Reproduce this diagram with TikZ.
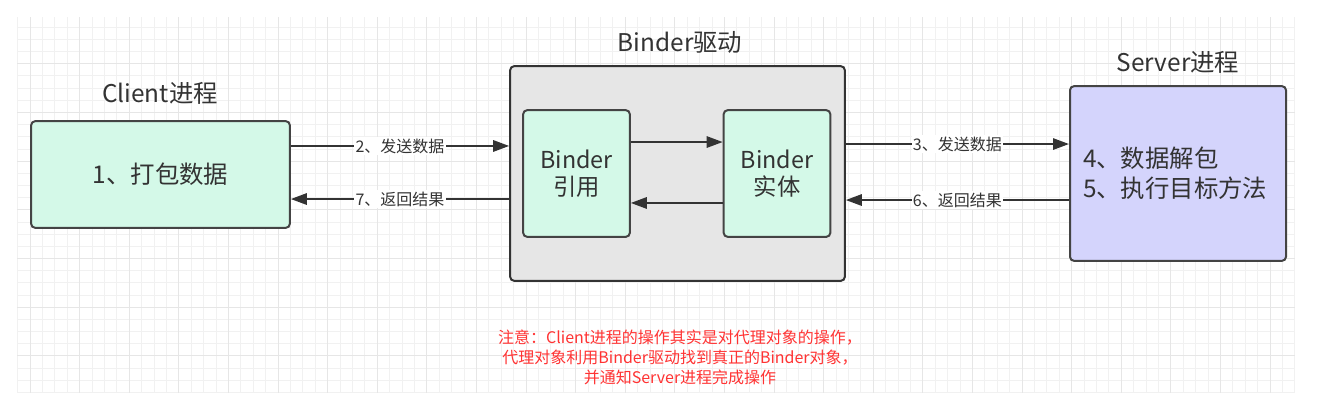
\documentclass[tikz,border=0pt]{standalone}
\usepackage{fontspec}
\setmainfont{Noto Sans CJK SC}
\usetikzlibrary{arrows.meta, positioning}

\definecolor{inkgray}{HTML}{333333}
\definecolor{edgegray}{HTML}{444444}
\definecolor{mint}{HTML}{D4F9E8}
\definecolor{lavender}{HTML}{D4D4FC}
\definecolor{driverfill}{HTML}{E6E6E6}
\definecolor{gridlight}{HTML}{F1F1F1}
\definecolor{gridheavy}{HTML}{E6E6E6}
\definecolor{notered}{HTML}{FF3333}

\tikzset{
  procbox/.style={draw=edgegray, line width=1.5pt, rounded corners=3pt,
    text=inkgray, font=\fontsize{18.3}{22.5}\selectfont},
  innerbox/.style={procbox, fill=mint, minimum width=80pt, minimum height=95pt,
    align=center, font=\fontsize{17.5}{20}\selectfont},
  title/.style={text=inkgray, font=\fontsize{18.3}{20}\selectfont},
  flow/.style={draw=inkgray, line width=1.5pt, -{Triangle[length=12pt,width=8.5pt]}},
  flowlabel/.style={fill=white, text=inkgray, inner sep=1pt, font=\fontsize{12}{14}\selectfont}
}

\begin{document}
\begin{tikzpicture}[x=0.75pt, y=-0.75pt]
\useasboundingbox (0,0) rectangle (1322,411);
\fill[white] (0,0) rectangle (1322,411);

% grid
\foreach \i in {0,...,103}
  \draw[gridlight, line width=0.75pt] ({17.6+12.4*\i},17) -- ({17.6+12.4*\i},393);
\foreach \j in {0,...,30}
  \draw[gridlight, line width=0.75pt] (17,{27.3+12.17*\j}) -- (1295,{27.3+12.17*\j});
\foreach \i in {1,5,...,101}
  \draw[gridheavy, line width=0.75pt] ({17.6+12.4*\i},17) -- ({17.6+12.4*\i},393);
\foreach \j in {3,7,...,27}
  \draw[gridheavy, line width=0.75pt] (17,{27.3+12.17*\j}) -- (1295,{27.3+12.17*\j});

% processes
\node[procbox, fill=mint, minimum width=194pt, minimum height=80pt] (client) at (160.5,174.5) {1、打包数据};
\node[procbox, fill=driverfill, draw=inkgray, minimum width=251pt, minimum height=161pt] (driver) at (677.5,173.5) {};
\node[innerbox] (ref) at (576.5,173.5) {Binder\\引用};
\node[innerbox] (entity) at (777,173.5) {Binder\\实体};
\node[procbox, fill=lavender, minimum width=162pt, minimum height=131pt,
  inner xsep=9.75pt, text width=142.5pt, align=left] (server) at (1178,173.5) {4、数据解包\\5、执行目标方法};

% titles
\node[title] (clienttitle) at (160,93) {Client进程};
\node[title] (drivertitle) at (680,42) {Binder驱动};
\node[title] (servertitle) at (1178,62) {Server进程};

% connectors
\coordinate (sendL) at ([yshift=21.4pt]client.east);
\coordinate (backL) at ([yshift=-18.4pt]driver.west |- client.east);
\coordinate (sendR) at ([yshift=22.1pt]driver.east);
\coordinate (backR) at ([yshift=-19.9pt]server.west);
\coordinate (refout) at ([yshift=23.6pt]ref.east);
\coordinate (entout) at ([yshift=-22.1pt]entity.west);

\draw[flow] (sendL) -- node[flowlabel] {2、发送数据} (sendL -| driver.west);
\draw[flow] (backL) -- node[flowlabel] {7、返回结果} (backL -| client.east);
\draw[flow] (sendR) -- node[flowlabel] {3、发送数据} (sendR -| server.west);
\draw[flow] (backR) -- node[flowlabel] {6、返回结果} (backR -| driver.east);
\draw[flow] (refout) -- (refout -| entity.west);
\draw[flow] (entout) -- (entout -| ref.east);

% note
\node[text=notered, align=center, font=\fontsize{12}{15}\selectfont] (note) at (680,357)
  {注意：Client进程的操作其实是对代理对象的操作，\\代理对象利用Binder驱动找到真正的Binder对象，\\并通知Server进程完成操作};
\end{tikzpicture}
\end{document}
